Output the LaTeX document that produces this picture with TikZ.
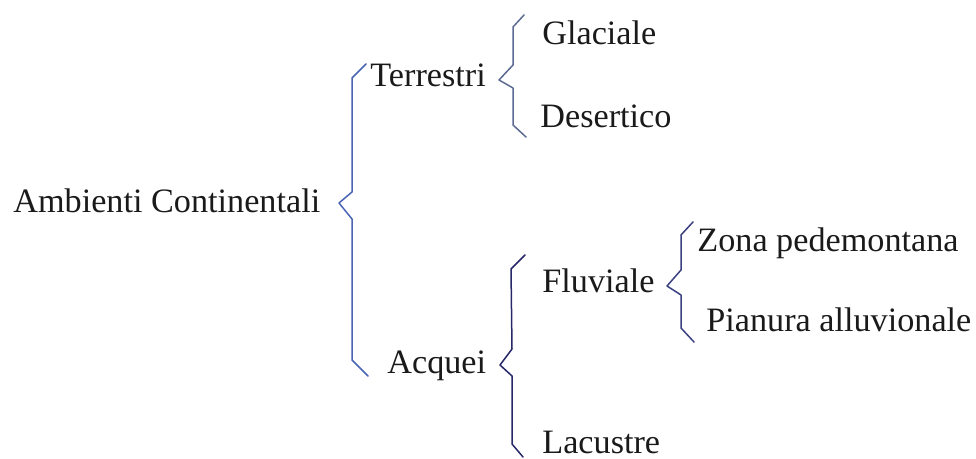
\documentclass[tikz,border=0pt]{standalone}
\usepackage{fontspec}
\setmainfont{Liberation Serif}
\definecolor{ink}{HTML}{1A1A1A}
\definecolor{braceA}{HTML}{4A64B4}
\definecolor{braceB}{HTML}{5C6A92}
\definecolor{braceC}{HTML}{262868}
\definecolor{braceD}{HTML}{3A4080}
\begin{document}
\begin{tikzpicture}[x=0.5pt,y=-0.5pt,
  lbl/.style={anchor=base west,inner sep=0pt,text=ink,font=\fontsize{17.1}{20}\selectfont},
  brc/.style={line width=0.75pt,line join=round,line cap=round}]
\useasboundingbox (0,0) rectangle (976,459);

% labels
\node[lbl] (amb) at (13,213) {Ambienti Continentali};
\node[lbl] (ter) at (370,87) {Terrestri};
\node[lbl] (acq) at (387,374) {Acquei};
\node[lbl] (gla) at (542,45) {Glaciale};
\node[lbl] (des) at (540,128) {Desertico};
\node[lbl] (flu) at (542,293) {Fluviale};
\node[lbl] (lac) at (542,454) {Lacustre};
\node[lbl] (zon) at (697,252) {Zona pedemontana};
\node[lbl] (pia) at (706,332) {Pianura alluvionale};

% braces: top tick, spine, notch pointing back to the parent, spine, bottom tick
\draw[brc,braceA] (366,64) -- (352,78) -- (352,192) -- (339,203) -- (352,219) -- (352,360) -- (368,376);
\draw[brc,braceB] (524,15) -- (513,27) -- (513,65) -- (499,80) -- (513,88) -- (513,125) -- (526,137);
\draw[brc,braceC] (525,255) -- (511,269) -- (512,349) -- (500,365) -- (512,376) -- (512,444) -- (523,457);
\draw[brc,braceD] (693,222) -- (681,235) -- (681,270) -- (667,286) -- (681,295) -- (681,328) -- (694,342);
\end{tikzpicture}
\end{document}
